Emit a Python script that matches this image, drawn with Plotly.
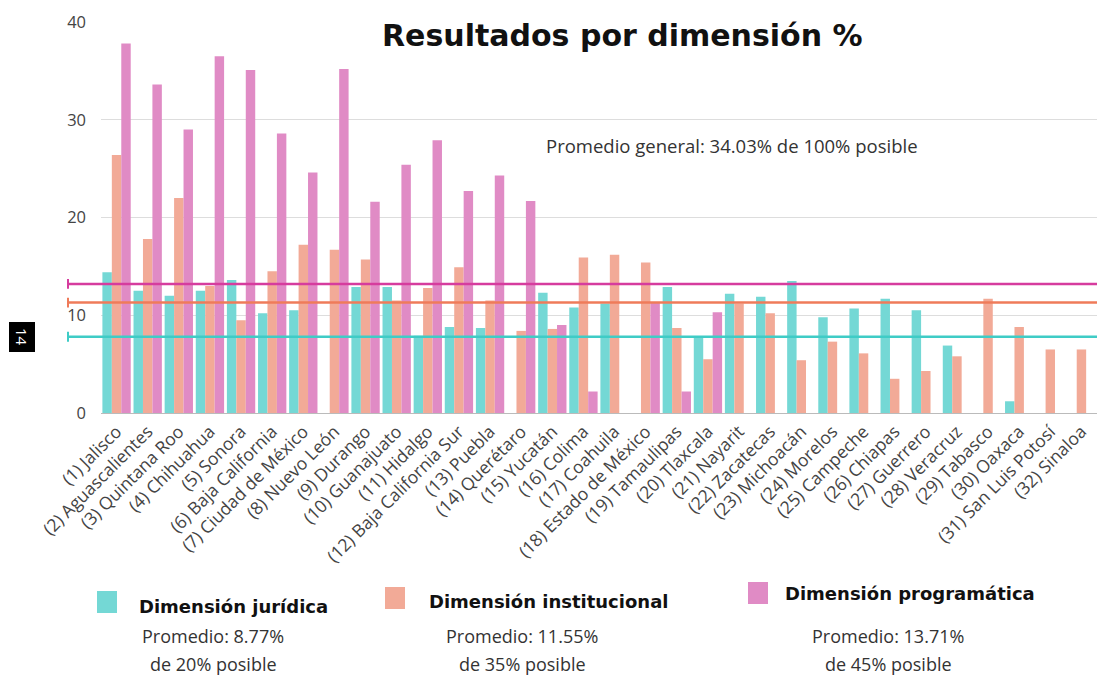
import plotly.graph_objects as go

states = ["(1) Jalisco", "(2) Aguascalientes", "(3) Quintana Roo", "(4) Chihuahua", "(5) Sonora",
          "(6) Baja California", "(7) Ciudad de México", "(8) Nuevo León", "(9) Durango",
          "(10) Guanajuato", "(11) Hidalgo", "(12) Baja California Sur", "(13) Puebla",
          "(14) Querétaro", "(15) Yucatán", "(16) Colima", "(17) Coahuila", "(18) Estado de México",
          "(19) Tamaulipas", "(20) Tlaxcala", "(21) Nayarit", "(22) Zacatecas", "(23) Michoacán",
          "(24) Morelos", "(25) Campeche", "(26) Chiapas", "(27) Guerrero", "(28) Veracruz",
          "(29) Tabasco", "(30) Oaxaca", "(31) San Luis Potosí", "(32) Sinaloa"]

juridica = [14.4, 12.5, 12.0, 12.5, 13.6, 10.2, 10.5, 0, 12.9, 12.9, 7.9, 8.8, 8.7, 0, 12.3, 10.8,
            11.2, 0, 12.9, 7.8, 12.2, 11.9, 13.5, 9.8, 10.7, 11.7, 10.5, 6.9, 0, 1.2, 0, 0]
institucional = [26.4, 17.8, 22.0, 13.0, 9.5, 14.5, 17.2, 16.7, 15.7, 11.5, 12.8, 14.9, 11.5, 8.4,
                 8.6, 15.9, 16.2, 15.4, 8.7, 5.5, 11.2, 10.2, 5.4, 7.3, 6.1, 3.5, 4.3, 5.8, 11.7,
                 8.8, 6.5, 6.5]
programatica = [37.8, 33.6, 29.0, 36.5, 35.1, 28.6, 24.6, 35.2, 21.6, 25.4, 27.9, 22.7, 24.3, 21.7,
                9.0, 2.2, 0, 11.3, 2.2, 10.3, 0, 0, 0, 0, 0, 0, 0, 0, 0, 0, 0, 0]

series_names = ["Dimensión jurídica", "Dimensión institucional", "Dimensión programática"]
series_promedio = ["Promedio: 8.77%", "Promedio: 11.55%", "Promedio: 13.71%"]
series_posible = ["de 20% posible", "de 35% posible", "de 45% posible"]
avg_lines = [7.8, 11.3, 13.2]  # drawn average lines

title_text = "Resultados por dimensión %"
subtitle_text = "Promedio general: 34.03% de 100% posible"

bar_colors = ["#74D8D5", "#F2AA97", "#E08BC5"]
line_colors = ["#3FCCC6", "#EF7B5A", "#D63C9E"]
FONT = "Open Sans"
BOLD = "DejaVu Sans"

W, H = 1097, 677
L, R, T, B = 101, 0, 22, 264
PW, PH = W - L - R, H - T - B


def px(x):
    return (x - L) / PW


def py(y):
    return (H - B - y) / PH


fig = go.Figure()
for vals, name, col in zip([juridica, institucional, programatica], series_names, bar_colors):
    fig.add_trace(go.Bar(x=states, y=vals, name=name, marker=dict(color=col, line=dict(width=0))))

shapes = []
for v, c in zip(avg_lines, line_colors):
    shapes.append(dict(type="line", xref="paper", yref="y", x0=px(68), x1=1.0, y0=v, y1=v,
                       line=dict(color=c, width=2.5), layer="above"))
    shapes.append(dict(type="line", xref="paper", yref="y", x0=px(68), x1=px(68), y0=v - 0.5, y1=v + 0.5,
                       line=dict(color=c, width=2), layer="above"))

# legend squares
sq = [(97, 591), (385, 587), (748, 582)]
for (sx, sy), c in zip(sq, bar_colors):
    shapes.append(dict(type="rect", xref="paper", yref="paper", x0=px(sx), x1=px(sx + 20),
                       y0=py(sy + 22), y1=py(sy), fillcolor=c, line=dict(width=0)))

# page number box
shapes.append(dict(type="rect", xref="paper", yref="paper", x0=px(9), x1=px(35), y0=py(352), y1=py(322),
                   fillcolor="black", line=dict(width=0)))

annotations = [
    dict(text="<b>" + title_text + "</b>", xref="paper", yref="paper", x=px(622), y=py(35),
         xanchor="center", yanchor="middle", showarrow=False,
         font=dict(family=BOLD, size=30, color="#111111")),
    dict(text=subtitle_text, xref="paper", yref="paper", x=px(732), y=py(145),
         xanchor="center", yanchor="middle", showarrow=False,
         font=dict(family=FONT, size=18.5, color="#333333")),
    dict(text="14", xref="paper", yref="paper", x=px(22), y=py(337), textangle=90,
         xanchor="center", yanchor="middle", showarrow=False,
         font=dict(family=FONT, size=15, color="white")),
]
name_pos = [(137, 606), (427, 601), (783, 593)]
sub_x = [213, 522, 888]
for (nx, ny), n, p1, p2, sx in zip(name_pos, series_names, series_promedio, series_posible, sub_x):
    annotations.append(dict(text="<b>" + n + "</b>", xref="paper", yref="paper", x=px(nx), y=py(ny),
                            xanchor="left", yanchor="middle", showarrow=False,
                            font=dict(family=BOLD, size=18, color="#111111")))
    annotations.append(dict(text=p1, xref="paper", yref="paper", x=px(sx), y=py(636),
                            xanchor="center", yanchor="middle", showarrow=False,
                            font=dict(family=FONT, size=18, color="#333333")))
    annotations.append(dict(text=p2, xref="paper", yref="paper", x=px(sx), y=py(664),
                            xanchor="center", yanchor="middle", showarrow=False,
                            font=dict(family=FONT, size=18, color="#333333")))

fig.update_layout(
    width=W, height=H,
    margin=dict(l=L, r=R, t=T, b=B, pad=0),
    paper_bgcolor="white", plot_bgcolor="white",
    barmode="group", bargap=0.09, bargroupgap=0,
    showlegend=False,
    shapes=shapes, annotations=annotations,
    font=dict(family=FONT, color="#444444"),
    xaxis=dict(tickangle=-45, tickfont=dict(family=FONT, size=17.5, color="#444444"),
               ticklabelstandoff=4,
               showgrid=False, showline=False, ticks="", automargin=False),
    yaxis=dict(range=[0, 40], tickvals=[0, 10, 20, 30, 40], showgrid=True, gridcolor="#DDDDDD",
               gridwidth=1, zeroline=True, zerolinecolor="#BBBBBB", zerolinewidth=1,
               tickfont=dict(family=FONT, size=16.5, color="#444444"), ticklabelstandoff=14,
               showline=False, automargin=False),
)

fig.write_html("out.html", config={"displayModeBar": False},
               post_script="document.body.style.margin='0';document.body.style.overflow='hidden';")
